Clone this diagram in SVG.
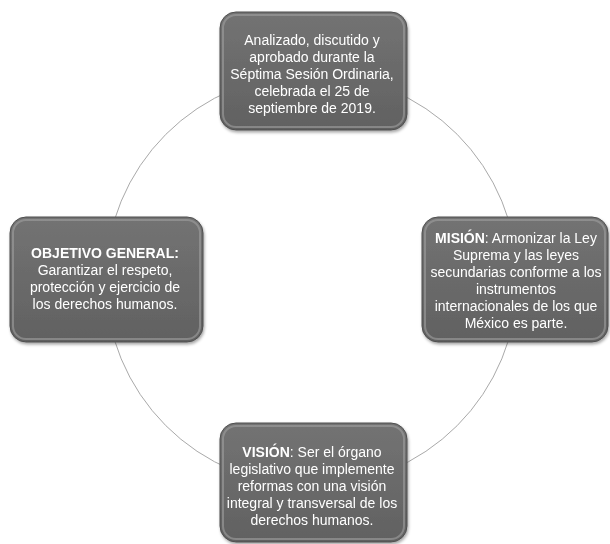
<svg xmlns="http://www.w3.org/2000/svg" width="610" height="544" viewBox="0 0 610 544">
<style>
.box{fill:url(#g);stroke:#4f4f4f;stroke-width:1}
.rim{fill:none;stroke:#a0a0a0;stroke-width:2;opacity:0.6}
.t{font-family:"Liberation Sans",Arial,sans-serif;font-size:14px;fill:#ffffff;text-anchor:middle}
.b{font-weight:bold}
.conn{fill:none;stroke:#a9a9a9;stroke-width:1}
</style>
<defs>
<linearGradient id="g" x1="0" y1="0" x2="0" y2="1">
<stop offset="0" stop-color="#737373"/>
<stop offset="1" stop-color="#616161"/>
</linearGradient>
<filter id="sh" x="-10%" y="-10%" width="120%" height="125%">
<feDropShadow dx="1" dy="2" stdDeviation="1.5" flood-color="#000" flood-opacity="0.35"/>
</filter>
</defs>
<rect width="610" height="544" fill="#ffffff"/>
<g id="connectors">
<circle class="conn" cx="311.5" cy="280" r="206"/>
</g>
<g id="node-top" filter="url(#sh)">
<rect class="box" x="220" y="12" width="187" height="118" rx="16"/>
<rect class="rim" x="223" y="15" width="181" height="112" rx="13"/>
<text class="t" x="312" y="45">Analizado, discutido y</text>
<text class="t" x="312" y="62">aprobado durante la</text>
<text class="t" x="312" y="79">Séptima Sesión Ordinaria,</text>
<text class="t" x="312" y="96">celebrada el 25 de</text>
<text class="t" x="312" y="113">septiembre de 2019.</text>
</g>
<g id="node-left" filter="url(#sh)">
<rect class="box" x="10" y="217" width="193" height="125" rx="16"/>
<rect class="rim" x="13" y="220" width="187" height="119" rx="13"/>
<text class="t b" x="105" y="258">OBJETIVO GENERAL:</text>
<text class="t" x="105" y="275">Garantizar el respeto,</text>
<text class="t" x="105" y="292">protección y ejercicio de</text>
<text class="t" x="105" y="309">los derechos humanos.</text>
</g>
<g id="node-right" filter="url(#sh)">
<rect class="box" x="422" y="217" width="186" height="125" rx="16"/>
<rect class="rim" x="425" y="220" width="180" height="119" rx="13"/>
<text class="t" x="516" y="243"><tspan class="b">MISIÓN</tspan>: Armonizar la Ley</text>
<text class="t" x="516" y="260">Suprema y las leyes</text>
<text class="t" x="516" y="277">secundarias conforme a los</text>
<text class="t" x="516" y="294">instrumentos</text>
<text class="t" x="516" y="311">internacionales de los que</text>
<text class="t" x="516" y="328">México es parte.</text>
</g>
<g id="node-bottom" filter="url(#sh)">
<rect class="box" x="220" y="423" width="187" height="119" rx="16"/>
<rect class="rim" x="223" y="426" width="181" height="113" rx="13"/>
<text class="t" x="312" y="457"><tspan class="b">VISIÓN</tspan>: Ser el órgano</text>
<text class="t" x="312" y="474">legislativo que implemente</text>
<text class="t" x="312" y="491">reformas con una visión</text>
<text class="t" x="312" y="508">integral y transversal de los</text>
<text class="t" x="312" y="525">derechos humanos.</text>
</g>
</svg>
